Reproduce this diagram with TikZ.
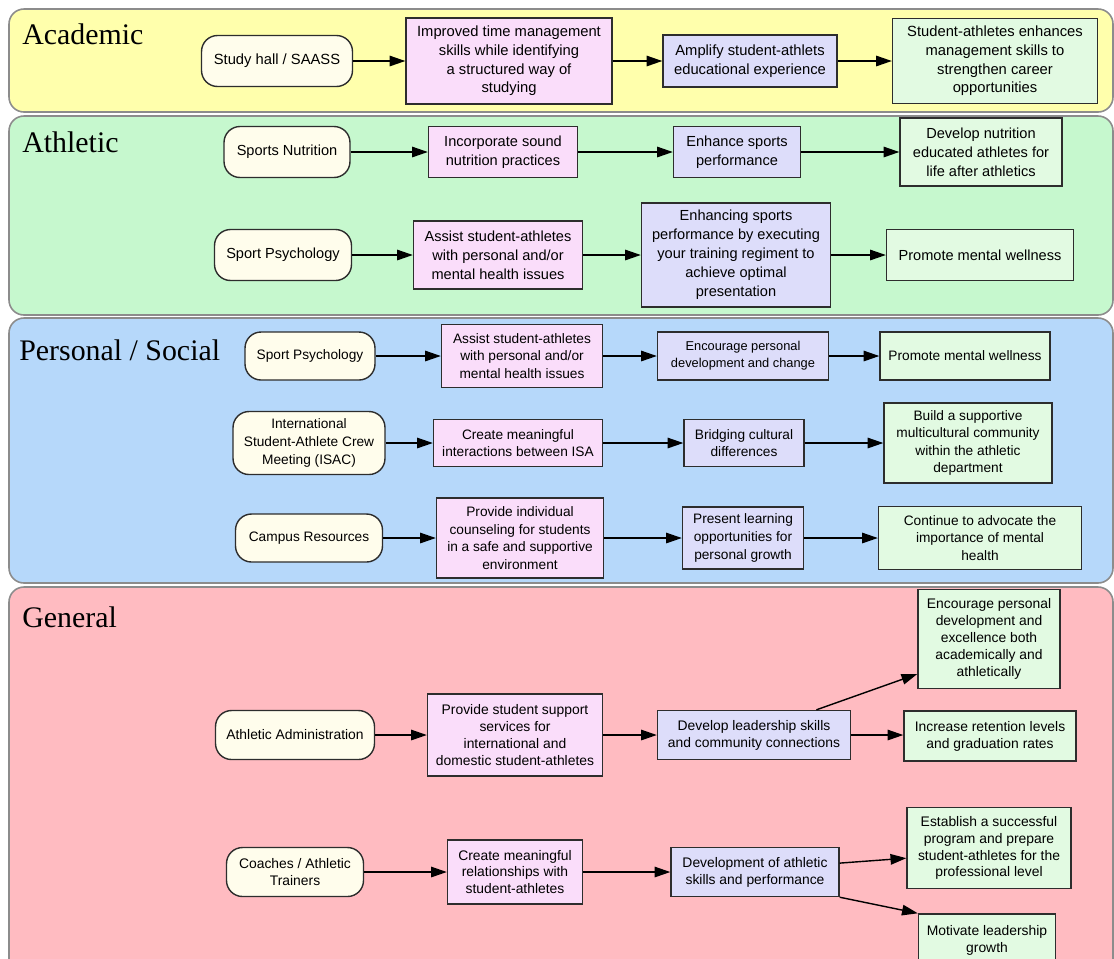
\documentclass[tikz,border=0pt]{standalone}
\usepackage{amsmath}
\usepackage{tikz}
\usepackage{xcolor}
\usepackage{fontspec}
\setmainfont{Liberation Sans}
\newfontfamily\headfont{Liberation Serif}
\usetikzlibrary{arrows.meta}

\definecolor{acadbg}{RGB}{255,255,172}
\definecolor{athlbg}{RGB}{198,248,206}
\definecolor{persbg}{RGB}{182,216,250}
\definecolor{genbg}{RGB}{255,187,193}
\definecolor{startfill}{RGB}{255,253,236}
\definecolor{pinkfill}{RGB}{250,221,250}
\definecolor{bluefill}{RGB}{221,221,250}
\definecolor{greenfill}{RGB}{226,250,226}
\definecolor{edge}{RGB}{45,45,45}

\tikzset{
  panel/.style={draw=black!45, line width=0.9pt, rounded corners=0.3cm},
  head/.style={anchor=base west, inner sep=0pt, font=\headfont\fontsize{17}{20}\selectfont},
  box/.style={draw=edge, line width=0.8pt, align=center, inner sep=0pt},
  start/.style={box, rounded corners=0.32cm, fill=startfill},
  pinkbox/.style={box, fill=pinkfill},
  bluebox/.style={box, fill=bluefill},
  greenbox/.style={box, fill=greenfill},
  sz/.style 2 args={minimum width=#1cm, minimum height=#2cm},
  arr/.style={-{Triangle[length=9pt,width=6pt]}, line width=0.8pt, black}
}

\begin{document}
\begin{tikzpicture}[x=0.02cm,y=-0.02cm]

\useasboundingbox (0,0) rectangle (1114,958);
\clip (0,0) rectangle (1114,958);

\filldraw[panel, fill=acadbg] (9,9) rectangle (1113,112);
\filldraw[panel, fill=athlbg] (9,116) rectangle (1113,315);
\filldraw[panel, fill=persbg] (9,318) rectangle (1113,583);
\filldraw[panel, fill=genbg] (9,587) rectangle (1113,990);

\node[head] (hacad) at (22,44) {Academic};
\node[head] (hathl) at (22,152) {Athletic};
\node[head] (hpers) at (19,360) {Personal / Social};
\node[head] (hgen) at (22,627) {General};

\begin{scope}[font=\fontsize{8.4}{10.6}\selectfont]
\node[start, sz={3.02}{1.02}] (a0) at (277,61) {Study hall / SAASS};
\node[pinkbox, sz={4.12}{1.72}] (a1) at (509,61) {Improved time management\\skills while identifying\\a structured way of\\studying};
\node[bluebox, sz={3.48}{1.04}] (a2) at (750,61) {Amplify student-athlets\\educational experience};
\node[greenbox, sz={4.10}{1.70}] (a3) at (995,61) {Student-athletes enhances\\management skills to\\strengthen career\\opportunities};
\end{scope}

\begin{scope}[font=\fontsize{8.3}{10.8}\selectfont]
\node[start, sz={2.52}{1.02}] (b0) at (287,152) {Sports Nutrition};
\node[pinkbox, sz={2.98}{1.02}] (b1) at (503,152) {Incorporate sound\\nutrition practices};
\node[bluebox, sz={2.54}{1.02}] (b2) at (737,152) {Enhance sports\\performance};
\node[greenbox, sz={3.24}{1.36}] (b3) at (981,152) {Develop nutrition\\educated athletes for\\life after athletics};
\node[start, sz={2.74}{1.02}] (b4) at (283,255) {Sport Psychology};
\node[pinkbox, sz={3.38}{1.36}] (b5) at (498,255) {Assist student-athletes\\with personal and/or\\mental health issues};
\node[bluebox, sz={3.78}{2.08}] (b6) at (736,255) {Enhancing sports\\performance by executing\\your training regiment to\\achieve optimal\\presentation};
\node[greenbox, sz={3.74}{1.02}] (b7) at (980,255) {Promote mental wellness};
\end{scope}

\begin{scope}[font=\fontsize{7.8}{10}\selectfont]
\node[start, sz={2.60}{0.96}] (c0) at (310,356) {Sport Psychology};
\node[pinkbox, sz={3.22}{1.26}] (c1) at (522,356) {Assist student-athletes\\with personal and/or\\mental health issues};
\node[bluebox, sz={3.42}{0.96}, font=\fontsize{7.3}{9.6}\selectfont] (c2) at (743,356) {Encourage personal\\development and change};
\node[greenbox, sz={3.40}{0.96}] (c3) at (965,356) {Promote mental wellness};
\node[start, sz={3.04}{1.26}] (c4) at (309,443) {International\\Student-Athlete Crew\\Meeting (ISAC)};
\node[pinkbox, sz={3.38}{0.94}] (c5) at (518,443) {Create meaningful\\interactions between ISA};
\node[bluebox, sz={2.40}{0.94}] (c6) at (744,443) {Bridging cultural\\differences};
\node[greenbox, sz={3.36}{1.60}] (c7) at (968,443) {Build a supportive\\multicultural community\\within the athletic\\department};
\node[start, sz={2.94}{0.96}] (c8) at (309,538) {Campus Resources};
\node[pinkbox, sz={3.34}{1.60}] (c9) at (520,538) {Provide individual\\counseling for students\\in a safe and supportive\\environment};
\node[bluebox, sz={2.42}{1.24}] (c10) at (743,538) {Present learning\\opportunities for\\personal growth};
\node[greenbox, sz={4.06}{1.26}] (c11) at (980,538) {Continue to advocate the\\importance of mental\\health};
\end{scope}

\begin{scope}[font=\fontsize{7.9}{9.6}\selectfont]
\node[start, sz={3.18}{0.98}] (d0) at (295,735) {Athletic Administration};
\node[pinkbox, sz={3.50}{1.64}] (d1) at (515,735) {Provide student support\\services for\\international and\\domestic student-athletes};
\node[bluebox, sz={3.86}{0.98}] (d2) at (754,735) {Develop leadership skills\\and community connections};
\node[greenbox, sz={2.84}{1.98}] (d3) at (989,639) {Encourage personal\\development and\\excellence both\\academically and\\athletically};
\node[greenbox, sz={3.44}{1.00}] (d4) at (990,736) {Increase retention levels\\and graduation rates};
\node[start, sz={2.74}{0.98}] (d5) at (295,872) {Coaches / Athletic\\Trainers};
\node[pinkbox, sz={2.70}{1.28}] (d6) at (515,872) {Create meaningful\\relationships with\\student-athletes};
\node[bluebox, sz={3.36}{0.98}] (d7) at (755,872) {Development of athletic\\skills and performance};
\node[greenbox, sz={3.28}{1.62}] (d8) at (989,848) {Establish a successful\\program and prepare\\student-athletes for the\\professional level};
\node[greenbox, sz={2.74}{1.04}] (d9) at (987,940) {Motivate leadership\\growth};
\end{scope}

\draw[arr] (a0) -- (a1);
\draw[arr] (a1) -- (a2);
\draw[arr] (a2) -- (a3);

\draw[arr] (b0) -- (b1);
\draw[arr] (b1) -- (b2);
\draw[arr] (b2) -- (b3);
\draw[arr] (b4) -- (b5);
\draw[arr] (b5) -- (b6);
\draw[arr] (b6) -- (b7);

\draw[arr] (c0) -- (c1);
\draw[arr] (c1) -- (c2);
\draw[arr] (c2) -- (c3);
\draw[arr] (c4) -- (c5);
\draw[arr] (c5) -- (c6);
\draw[arr] (c6) -- (c7);
\draw[arr] (c8) -- (c9);
\draw[arr] (c9) -- (c10);
\draw[arr] (c10) -- (c11);

\draw[arr] (d0) -- (d1);
\draw[arr] (d1) -- (d2);
\draw[arr] (d2.22) -- (d3.206);
\draw[arr] (d2.east) -- (d4.west |- d2.east);
\draw[arr] (d5) -- (d6);
\draw[arr] (d6) -- (d7);
\draw[arr] (d7.6) -- (d8.187);
\draw[arr] (d7.south east) -- (d9.north west);

\end{tikzpicture}
\end{document}
